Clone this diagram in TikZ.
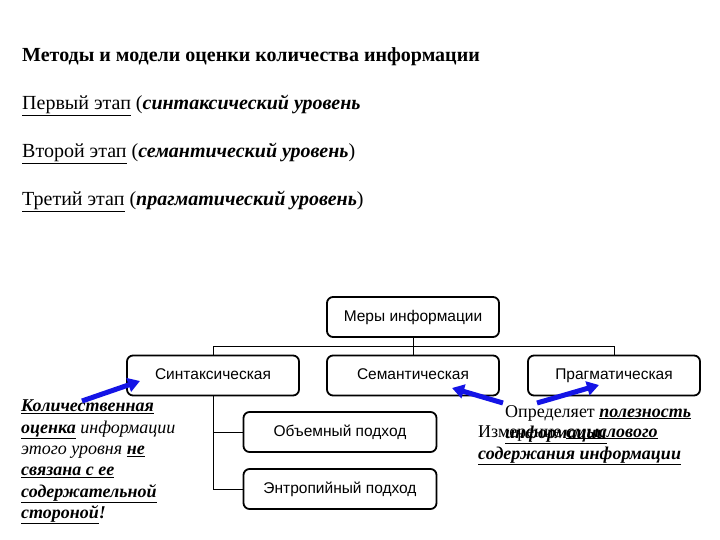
\documentclass[tikz,border=0pt]{standalone}
\usepackage{fontspec}
\setmainfont{Liberation Serif}
\setsansfont{Liberation Sans}
\usetikzlibrary{arrows.meta,positioning}

\tikzset{
    box/.style={draw, line width=1.8pt, rounded corners=6pt, fill=white,
        minimum width=172pt, minimum height=40pt, text height=11pt, text depth=3pt,
        font=\sffamily\fontsize{15.5}{17}\selectfont},
    wide/.style={minimum width=193pt},
    link/.style={line width=0.9pt},
    bluearrow/.style={line width=5pt, draw={rgb,255:red,20;green,20;blue,230},
        -{Triangle[length=12pt,width=14pt]}},
    txt/.style={anchor=base west, inner sep=0pt, font=\fontsize{20}{22}\selectfont},
    note/.style={anchor=base west, inner sep=0pt, font=\itshape\fontsize{18}{20}\selectfont},
    side/.style={anchor=base west, inner sep=0pt, font=\fontsize{18}{20}\selectfont}
}

\begin{document}
\begin{tikzpicture}[x=1pt,y=-1pt]
    \useasboundingbox (0,0) rectangle (720,540);
    % header lines
    \node[txt, font=\bfseries\fontsize{20}{22}\selectfont] (title) at (22,62)
        {Методы и модели оценки количества информации};
    \node[txt] (stage1) at (22,110) {\underline{Первый этап} (\textbf{\textit{синтаксический уровень}}};
    \node[txt] (stage2) at (22,158) {\underline{Второй этап} (\textbf{\textit{семантический уровень}})};
    \node[txt] (stage3) at (22,206) {\underline{Третий этап} (\textbf{\textit{прагматический уровень}})};

    % tree of measures
    \node[box] (measures) at (413,317) {Меры информации};
    \node[box] (syntax) at (213,375.5) {Синтаксическая};
    \node[box] (semantic) at (413,375.5) {Семантическая};
    \node[box] (pragmatic) at (614,375.5) {Прагматическая};
    \node[box, wide] (volume) at (340,432) {Объемный подход};
    \node[box, wide] (entropy) at (340,489) {Энтропийный подход};

    \draw[link] (measures.south) -- ++(0,9) coordinate (hub);
    \draw[link] (syntax.north) |- (hub) -| (pragmatic.north);
    \draw[link] (hub) -- (semantic.north);
    \draw[link] (syntax.south) |- (volume.west);
    \draw[link] (syntax.south) |- (entropy.west);

    % left remark
    \foreach \t [count=\i] in {
        {\underline{\textbf{Количественная}}},
        {\underline{\textbf{оценка}} информации},
        {этого уровня \underline{\textbf{не}}},
        {\underline{\textbf{связана с ее}}},
        {\underline{\textbf{содержательной}}},
        {\underline{\textbf{стороной}}\textbf{!}}} {
        \node[note] (remark\i) at (21,390.5+21.3*\i) {\t};
    }

    % right remarks (overlapping as in the slide)
    \node[side] (useful1) at (505,417) {Определяет \underline{\textbf{\textit{полезность}}}};
    \node[side] (useful2) at (505,438) {\underline{\textbf{\textit{информации}}}};
    \node[side] (sense1) at (478,437) {Измерение \underline{\textbf{\textit{смыслового}}}};
    \node[side] (sense2) at (478,459) {\underline{\textbf{\textit{содержания информации}}}};

    % blue pointers
    \coordinate (tailA) at (82,401);
    \coordinate (headA) at (140,381);
    \coordinate (tailB) at (503,403);
    \coordinate (headB) at (452,388);
    \coordinate (tailC) at (537,403);
    \coordinate (headC) at (599,385);
    \draw[bluearrow] (tailA) -- (headA);
    \draw[bluearrow] (tailB) -- (headB);
    \draw[bluearrow] (tailC) -- (headC);
\end{tikzpicture}
\end{document}
